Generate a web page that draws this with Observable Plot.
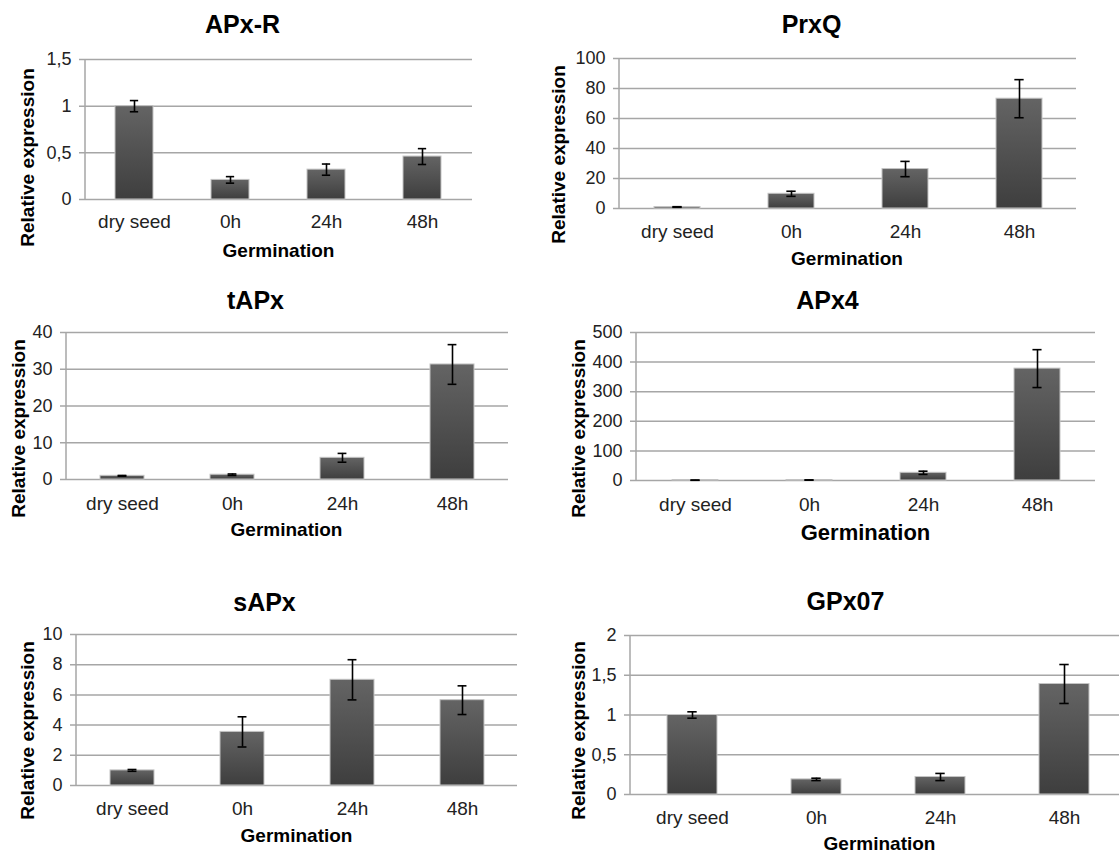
<!DOCTYPE html>
<html>
<head>
<meta charset="utf-8">
<script src="https://cdn.jsdelivr.net/npm/d3@7"></script>
<script src="https://cdn.jsdelivr.net/npm/@observablehq/plot@0.6"></script>
<style>
  html, body { margin: 0; padding: 0; background: #fff; overflow: hidden; }
  #chart { position: relative; width: 1119px; height: 854px; overflow: hidden; background: #fff; }
  #chart svg { position: absolute; }
</style>
</head>
<body>
<div id="chart"></div>
<script>
// ---------------- data ----------------
const categories = ["dry seed", "0h", "24h", "48h"];

const apxRValues = [1.0, 0.21, 0.32, 0.46];
const apxRErrors = [0.06, 0.035, 0.06, 0.085];
const apxRTicks = [0, 0.5, 1, 1.5];

const prxQValues = [1.0, 9.8, 26.3, 73.2];
const prxQErrors = [0.2, 1.7, 5.1, 12.7];
const prxQTicks = [0, 20, 40, 60, 80, 100];

const tAPxValues = [1.0, 1.3, 5.9, 31.3];
const tAPxErrors = [0.1, 0.2, 1.2, 5.4];
const tAPxTicks = [0, 10, 20, 30, 40];

const apx4Values = [1.0, 1.5, 26, 378];
const apx4Errors = [0.3, 0.5, 5.5, 64];
const apx4Ticks = [0, 100, 200, 300, 400, 500];

const sAPxValues = [1.0, 3.55, 7.0, 5.65];
const sAPxErrors = [0.06, 1.0, 1.33, 0.95];
const sAPxTicks = [0, 2, 4, 6, 8, 10];

const gpx07Values = [1.0, 0.19, 0.22, 1.39];
const gpx07Errors = [0.04, 0.015, 0.045, 0.245];
const gpx07Ticks = [0, 0.5, 1, 1.5, 2];

const yLabel = "Relative expression";
const xLabel = "Germination";

// ---------------- layout ----------------
const panels = [
  {title: "APx-R", values: apxRValues, errors: apxRErrors, ticks: apxRTicks,
   box: {x: 0, y: 0, w: 560, h: 270}, frame: {l: 85, r: 472, t: 59, b: 199},
   titlePos: [242, 24], xTickY: 221.5, germPos: [278, 250], germSize: 19, yLabelPos: [27, 157]},
  {title: "PrxQ", values: prxQValues, errors: prxQErrors, ticks: prxQTicks,
   box: {x: 560, y: 0, w: 559, h: 270}, frame: {l: 619, r: 1076, t: 58, b: 208},
   titlePos: [811, 24], xTickY: 231, germPos: [846.5, 258.5], germSize: 19, yLabelPos: [558, 154]},
  {title: "tAPx", values: tAPxValues, errors: tAPxErrors, ticks: tAPxTicks,
   box: {x: 0, y: 270, w: 560, h: 275}, frame: {l: 66, r: 508, t: 332, b: 479},
   titlePos: [255, 300], xTickY: 503, germPos: [286, 529], germSize: 19, yLabelPos: [18, 428]},
  {title: "APx4", values: apx4Values, errors: apx4Errors, ticks: apx4Ticks,
   box: {x: 560, y: 270, w: 559, h: 275}, frame: {l: 636, r: 1095, t: 332, b: 480},
   titlePos: [827, 300], xTickY: 504, germPos: [865, 532.5], germSize: 22, yLabelPos: [578, 428]},
  {title: "sAPx", values: sAPxValues, errors: sAPxErrors, ticks: sAPxTicks,
   box: {x: 0, y: 545, w: 560, h: 309}, frame: {l: 76, r: 517, t: 634, b: 785},
   titlePos: [264, 602], xTickY: 808.5, germPos: [296, 835], germSize: 19, yLabelPos: [27, 730]},
  {title: "GPx07", values: gpx07Values, errors: gpx07Errors, ticks: gpx07Ticks,
   box: {x: 560, y: 545, w: 580, h: 309}, frame: {l: 630, r: 1126, t: 635, b: 794},
   titlePos: [845, 601.5], xTickY: 817.5, germPos: [879, 843.5], germSize: 19, yLabelPos: [578, 730]}
];

const gridColor = "#a6a6a6";
const fontFamily = "'Liberation Sans', Arial, Helvetica, sans-serif";
const fmt = d => String(d).replace(".", ",");
const chart = document.getElementById("chart");

panels.forEach((p, k) => {
  const data = categories.map((c, i) => ({cat: c, value: p.values[i], err: p.errors[i]}));
  const f = p.frame, b = p.box;
  const plotW = f.r - f.l;
  const bandW = plotW / 4 * 0.4;
  const capW = 9;
  const capInset = (bandW - capW) / 2;
  const gradId = "barGrad" + k;

  const defs = () => {
    const svgNS = "http://www.w3.org/2000/svg";
    const g = document.createElementNS(svgNS, "defs");
    const lg = document.createElementNS(svgNS, "linearGradient");
    lg.setAttribute("id", gradId);
    lg.setAttribute("x1", "0"); lg.setAttribute("y1", "0");
    lg.setAttribute("x2", "0"); lg.setAttribute("y2", "1");
    [["0%", "#646464"], ["100%", "#3e3e3e"]].forEach(([o, c]) => {
      const s = document.createElementNS(svgNS, "stop");
      s.setAttribute("offset", o); s.setAttribute("stop-color", c);
      lg.appendChild(s);
    });
    g.appendChild(lg);
    return g;
  };

  const axisLine = (index, scales, values, dims) => {
    const svgNS = "http://www.w3.org/2000/svg";
    const l = document.createElementNS(svgNS, "line");
    l.setAttribute("x1", dims.marginLeft); l.setAttribute("x2", dims.marginLeft);
    l.setAttribute("y1", dims.marginTop); l.setAttribute("y2", dims.height - dims.marginBottom);
    l.setAttribute("stroke", gridColor); l.setAttribute("stroke-width", 1.5);
    return l;
  };

  const centered = {textAnchor: "middle", lineAnchor: "middle"};

  const svg = Plot.plot({
    width: b.w,
    height: b.h,
    marginLeft: f.l - b.x,
    marginRight: b.x + b.w - f.r,
    marginTop: f.t - b.y,
    marginBottom: b.y + b.h - f.b,
    style: {fontFamily, background: "transparent", overflow: "visible"},
    x: {type: "band", domain: categories, paddingInner: 0.6, paddingOuter: 0.3, axis: null},
    y: {domain: [0, p.ticks[p.ticks.length - 1]], axis: null},
    marks: [
      defs,
      Plot.ruleY(p.ticks, {stroke: gridColor, strokeWidth: 1.5, insetLeft: -6}),
      axisLine,
      Plot.barY(data, {x: "cat", y: "value", fill: `url(#${gradId})`, stroke: "#c4c4c4", strokeWidth: 1}),
      Plot.ruleX(data, {x: "cat", y1: d => d.value - d.err, y2: d => d.value + d.err, stroke: "#000", strokeWidth: 1.6}),
      Plot.tickY(data, {x: "cat", y: d => d.value - d.err, stroke: "#000", strokeWidth: 1.6, insetLeft: capInset, insetRight: capInset}),
      Plot.tickY(data, {x: "cat", y: d => d.value + d.err, stroke: "#000", strokeWidth: 1.6, insetLeft: capInset, insetRight: capInset}),
      // y tick labels
      Plot.text(p.ticks, {y: d => d, text: fmt, frameAnchor: "left", dx: -14, textAnchor: "end", lineAnchor: "middle", fontSize: 18, fill: "#222"}),
      // x tick labels
      Plot.text(categories, {x: d => d, text: d => d, frameAnchor: "bottom", dy: p.xTickY - f.b, ...centered, fontSize: 19, fill: "#222"}),
      // title
      Plot.text([p.title], {text: d => d, frameAnchor: "top-left", dx: p.titlePos[0] - f.l, dy: p.titlePos[1] - f.t, ...centered, fontSize: 25, fontWeight: "bold", fill: "#000"}),
      // x axis title
      Plot.text([xLabel], {text: d => d, frameAnchor: "top-left", dx: p.germPos[0] - f.l, dy: p.germPos[1] - f.t, ...centered, fontSize: p.germSize, fontWeight: "bold", fill: "#000"}),
      // y axis title
      Plot.text([yLabel], {text: d => d, frameAnchor: "top-left", dx: p.yLabelPos[0] - f.l, dy: p.yLabelPos[1] - f.t, ...centered, rotate: -90, fontSize: 19, fontWeight: "bold", fill: "#000"})
    ]
  });
  svg.style.left = b.x + "px";
  svg.style.top = b.y + "px";
  chart.appendChild(svg);
});
</script>
</body>
</html>
